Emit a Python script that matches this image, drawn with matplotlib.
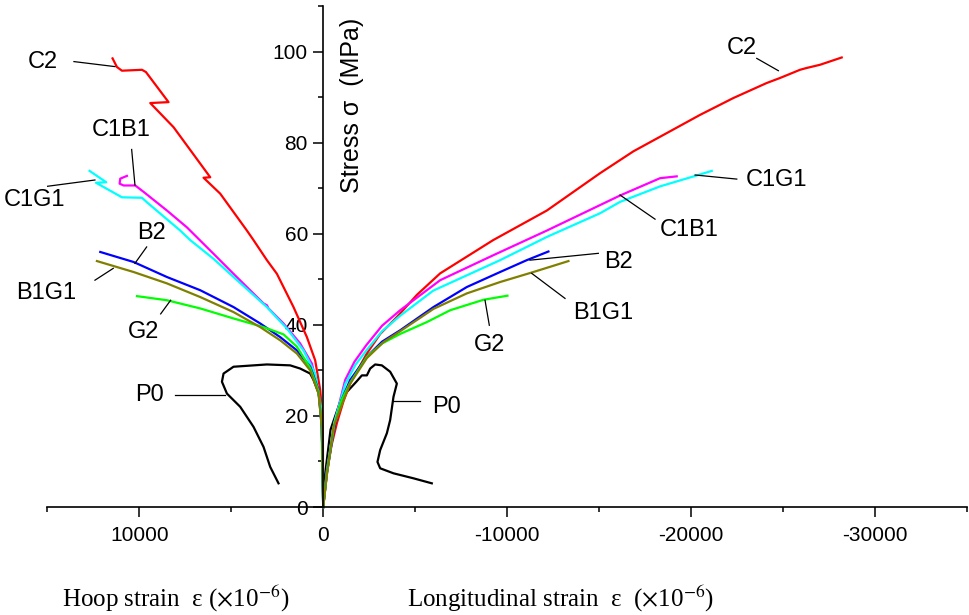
import matplotlib.pyplot as plt
from matplotlib.ticker import MultipleLocator

plt.rcParams['font.family'] = ['Liberation Sans', 'DejaVu Sans']
plt.rcParams['mathtext.fontset'] = 'stix'
plt.rcParams['axes.unicode_minus'] = False

# ---- data : hoop strain (positive, left half) and longitudinal strain (negative, right half)
# strain in 1e-6, stress in MPa

p0_hoop = [0, 30, 100, 250, 527, 707, 1250, 1793, 3060, 4875, 5418, 5505, 5233, 4511, 3788, 3244, 2880, 2429]
p0_hoop_s = [0, 10, 20, 25, 27.9, 29.3, 30.4, 31.1, 31.3, 30.8, 29.3, 27.5, 24.9, 22.0, 17.6, 13.2, 8.8, 5.2]
p0_long = [0, -100, -400, -1000, -1800, -2103, -2375, -2554, -2826, -3190, -3641, -4005, -3822, -3641, -3462,
           -3098, -2951, -3098, -3822, -4908, -5905]
p0_long_s = [0, 7, 17, 24, 27.5, 28.9, 28.9, 30.4, 31.3, 31.1, 29.7, 27.1, 24.2, 19.1, 16.2,
             12.5, 9.9, 8.5, 7.4, 6.3, 5.2]

c2_hoop = [0, 16, 60, 163, 435, 886, 1614, 2516, 3060, 3788, 4147, 5598, 6505, 6141, 8136, 9402, 8408,
           9636, 9853, 10940, 11212, 11451]
c2_hoop_s = [0, 14.7, 21.0, 25.7, 32.2, 37.3, 43.9, 51.2, 54.2, 58.6, 60.7, 68.8, 72.3, 72.4, 83.4, 88.7, 88.9,
             95.5, 96.0, 95.8, 96.6, 98.5]
c2_long = [0, -200, -450, -743, -1100, -1467, -2373, -3100, -4005, -5100, -6359, -9240, -12160, -15054,
           -16866, -18679, -20489, -22300, -24114, -24837, -25924, -26286, -27011, -28190]
c2_long_s = [0, 7.4, 13.5, 18.4, 23.2, 27.1, 33.7, 38.0, 41.7, 46.6, 51.3, 58.6, 65.1, 73.3,
             78.1, 82.1, 86.1, 89.8, 93.1, 94.2, 96.0, 96.4, 97.1, 98.7]

c1b1_hoop = [0, 71, 255, 614, 1250, 2158, 2973, 3060, 3244, 4875, 5962, 7408, 8496, 9766, 10217,
             10853, 11069, 11033, 10670]
c1b1_hoop_s = [0, 17.6, 25.7, 31.5, 35.9, 40.3, 43.6, 44.3, 44.7, 51.2, 55.6, 61.4, 65.1, 69.2, 70.6,
               70.6, 71.0, 72.1, 72.7]
c1b1_long = [0, -217, -652, -1196, -1700, -2337, -3200, -4185, -6359, -9257, -12160, -16141, -18315, -19220]
c1b1_long_s = [0, 8.1, 19.1, 27.9, 31.9, 35.5, 39.8, 43.2, 49.8, 55.3, 60.7, 68.4, 72.2, 72.6]

c1g1_hoop = [0, 125, 435, 1071, 1973, 3060, 4875, 5962, 7228, 7772, 9581, 9853, 10940, 12353, 11793, 12701]
c1g1_hoop_s = [0, 22.0, 29.3, 34.4, 39.2, 43.9, 50.5, 54.5, 58.6, 60.7, 66.9, 67.9, 68.0, 71.2, 71.3, 73.8]
c1g1_long = [0, -200, -600, -1200, -1750, -2373, -3200, -4185, -5978, -9620, -12160, -15054, -16141,
             -18315, -20310, -21125]
c1g1_long_s = [0, 8.0, 18.5, 27.0, 31.2, 34.5, 38.6, 42.0, 47.5, 54.2, 59.3, 64.5, 67.0, 70.4, 72.8, 73.8]

b2_hoop = [0, 71, 255, 707, 1431, 2337, 3424, 4875, 6685, 8496, 10310, 12120]
b2_hoop_s = [0, 17.0, 25.7, 30.8, 34.4, 37.3, 40.3, 43.9, 47.6, 50.5, 53.8, 56.0]
b2_long = [0, -200, -600, -1000, -1467, -2373, -3200, -4185, -5995, -7808, -9620, -11069, -12245]
b2_long_s = [0, 7.5, 17.5, 23.5, 27.9, 33.0, 36.3, 38.8, 43.9, 48.3, 51.6, 54.2, 56.1]

g2_hoop = [0, 71, 255, 707, 1431, 2158, 3244, 4875, 6685, 8496, 10125]
g2_hoop_s = [0, 17.5, 25.5, 30.5, 35.2, 37.9, 39.5, 41.4, 43.6, 45.4, 46.3]
g2_long = [0, -200, -600, -1000, -1467, -2373, -3200, -4185, -5634, -6902, -8712, -10018]
g2_long_s = [0, 7.3, 18.0, 23.5, 27.3, 33.0, 35.9, 38.0, 40.6, 43.2, 45.5, 46.4]

b1g1_hoop = [0, 71, 255, 707, 1431, 2337, 3424, 4875, 6685, 8496, 10310, 12301]
b1g1_hoop_s = [0, 17.6, 24.9, 30.0, 33.7, 36.6, 39.5, 42.8, 46.1, 49.1, 51.6, 54.0]
b1g1_long = [0, -200, -560, -1103, -1467, -2373, -3278, -4185, -5995, -7808, -9620, -11431, -13333]
b1g1_long_s = [0, 7.0, 17.6, 23.4, 27.1, 32.7, 36.2, 38.6, 43.5, 46.9, 49.4, 51.6, 54.0]

names = ['P0', 'C2', 'C1B1', 'C1G1', 'B2', 'G2', 'B1G1']
colors = ['black', '#ff0000', '#ff00ff', '#00ffff', '#0000ff', '#00ff00', '#808000']
hoop = [(p0_hoop, p0_hoop_s), (c2_hoop, c2_hoop_s), (c1b1_hoop, c1b1_hoop_s), (c1g1_hoop, c1g1_hoop_s),
        (b2_hoop, b2_hoop_s), (g2_hoop, g2_hoop_s), (b1g1_hoop, b1g1_hoop_s)]
longi = [(p0_long, p0_long_s), (c2_long, c2_long_s), (c1b1_long, c1b1_long_s), (c1g1_long, c1g1_long_s),
         (b2_long, b2_long_s), (g2_long, g2_long_s), (b1g1_long, b1g1_long_s)]

# label text position, leader line start, leader line end (data units)
left_labels = {
    'C2':   ((15254, 97.8), (13551, 97.8), (11322, 96.7)),
    'C1B1': ((10957, 82.8), (10413, 78.5), (10234, 70.7)),
    'C1G1': ((15672, 67.4), (15220, 70.3), (12409, 71.8)),
    'B2':   ((9326, 60.1), (9598, 57.1), (10234, 53.5)),
    'B1G1': ((15035, 46.9), (12409, 49.8), (11414, 52.4)),
    'G2':   ((9783, 38.5), (8836, 42.4), (8293, 45.4)),
    'P0':   ((9418, 24.5), (8059, 24.5), (5340, 24.5)),
}
right_labels = {
    'C2':   ((-22757, 100.7), (-23573, 98.5), (-24747, 95.8)),
    'C1G1': ((-24660, 71.8), (-22485, 72.0), (-20218, 72.9)),
    'C1B1': ((-19908, 60.8), (-18042, 63.2), (-16139, 68.5)),
    'B2':   ((-16047, 53.8), (-14959, 55.7), (-11242, 54.2)),
    'B1G1': ((-15231, 42.5), (-13148, 45.8), (-11338, 51.3)),
    'G2':   ((-9070, 35.5), (-9032, 39.9), (-8798, 45.4)),
    'P0':   ((-6716, 22.0), (-5262, 23.2), (-3812, 23.2)),
}

fig = plt.figure(figsize=(9.69, 6.15), dpi=100)
ax = fig.add_axes([0.0488, 0.1756, 0.9491, 0.8146])

for (hx, hy), (lx, ly), c in zip(hoop, longi, colors):
    ax.plot(hx, hy, color=c, lw=1.6, clip_on=False)
    ax.plot(lx, ly, color=c, lw=1.6, clip_on=False)

for labels in (left_labels, right_labels):
    for name, (tpos, p1, p2) in labels.items():
        ax.text(tpos[0], tpos[1], name, fontsize=17, ha='center', va='center')
        ax.plot([p1[0], p2[0]], [p1[1], p2[1]], color='black', lw=0.9)

ax.set_xlim(15000, -35000)
ax.set_ylim(0, 110)

ax.spines['left'].set_position(('data', 0))
ax.spines['top'].set_visible(False)
ax.spines['right'].set_visible(False)
for sp in ('left', 'bottom'):
    ax.spines[sp].set_linewidth(1.2)

ax.xaxis.set_major_locator(MultipleLocator(10000))
ax.xaxis.set_minor_locator(MultipleLocator(5000))
ax.yaxis.set_major_locator(MultipleLocator(20))
ax.yaxis.set_minor_locator(MultipleLocator(10))
ax.tick_params(which='major', direction='out', length=7, width=1.1, labelsize=15)
ax.tick_params(which='minor', direction='out', length=3.5, width=1.1)
ax.tick_params(axis='x', which='major', pad=7)
ax.tick_params(axis='y', which='major', pad=4)

ax.text(-1550, 88.2, 'Stress σ  (MPa)', rotation=90, fontsize=18, ha='center', va='center')

fig.text(0.0637, 0.0135, r'Hoop strain  ε ($\times$10$^{-6}$)', fontsize=18,
         family='Liberation Serif', ha='left', va='baseline')
fig.text(0.4197, 0.0135, r'Longitudinal strain  ε  ($\times$10$^{-6}$)', fontsize=18,
         family='Liberation Serif', ha='left', va='baseline')

plt.savefig('out.png', dpi=100)
